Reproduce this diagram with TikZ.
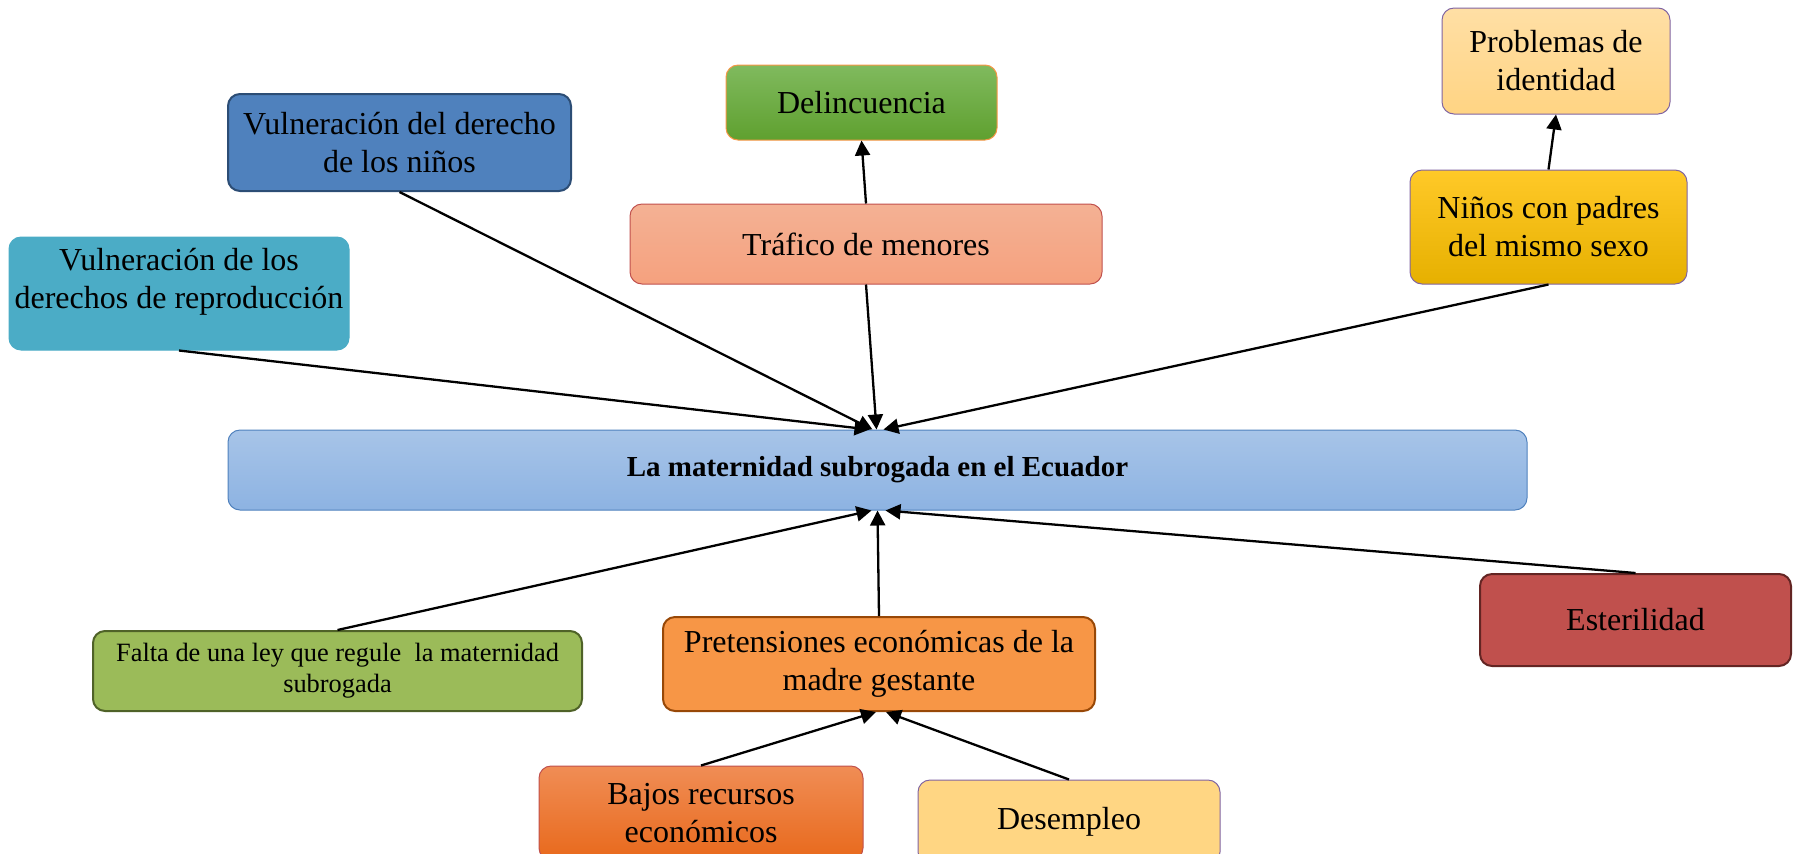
\documentclass[tikz,border=0pt]{standalone}
\usepackage{fontspec}
\setmainfont{Liberation Serif}
\usepackage{tikz}
\usetikzlibrary{arrows.meta}

\definecolor{ninfill}{HTML}{4F81BD}
\definecolor{nindraw}{HTML}{2C4D75}
\definecolor{repfill}{HTML}{4BACC6}
\definecolor{deltop}{HTML}{80BA5E}
\definecolor{delbot}{HTML}{5FA02F}
\definecolor{deldraw}{HTML}{F79646}
\definecolor{traftop}{HTML}{F4B194}
\definecolor{trafbot}{HTML}{F5A17E}
\definecolor{trafdraw}{HTML}{C0504D}
\definecolor{probtop}{HTML}{FFDFA5}
\definecolor{probbot}{HTML}{FFD483}
\definecolor{violet}{HTML}{8064A2}
\definecolor{padtop}{HTML}{FFC928}
\definecolor{padbot}{HTML}{E6B000}
\definecolor{maintop}{HTML}{A7C4E8}
\definecolor{mainbot}{HTML}{8DB3E2}
\definecolor{leyfill}{HTML}{9BBB59}
\definecolor{leydraw}{HTML}{4F6228}
\definecolor{pretfill}{HTML}{F79646}
\definecolor{pretdraw}{HTML}{984807}
\definecolor{estfill}{HTML}{C0504D}
\definecolor{estdraw}{HTML}{632523}
\definecolor{bajtop}{HTML}{F08D55}
\definecolor{bajbot}{HTML}{E8691C}
\definecolor{desfill}{HTML}{FFD683}

\begin{document}
\begin{tikzpicture}[x=0.5pt, y=-0.5pt]
    \tikzstyle{box} = [rectangle, rounded corners=6pt, align=center, inner sep=0pt, font=\fontsize{16}{19}\selectfont]
    \tikzstyle{thinbox} = [box, line width=0.5pt]
    \tikzstyle{thickbox} = [box, line width=1pt]
    \tikzstyle{arr} = [-{Triangle[length=7.5pt, width=7.5pt]}, line width=1.15pt]

    \clip (0,0) rectangle (1793,853);

    % Central problem
    \node[thinbox, draw=ninfill, top color=maintop, bottom color=mainbot, minimum width=649.5pt, minimum height=40pt,
          font=\bfseries\fontsize{14.5}{17}\selectfont] (main) at (877.5,470) {La maternidad subrogada en el Ecuador};

    % Effects
    \node[thickbox, draw=nindraw, fill=ninfill, minimum width=171.5pt, minimum height=48.5pt] (nin) at (399.5,142.5)
        {Vulneración del derecho\\de los niños};
    \node[thinbox, draw=repfill, fill=repfill, minimum width=170pt, minimum height=56.5pt] (rep) at (179,293.5)
        {Vulneración de los\\derechos de reproducción\\[-4pt]\mbox{}};
    \node[thinbox, draw=deldraw, top color=deltop, bottom color=delbot, minimum width=135.5pt, minimum height=37.5pt] (del) at (861.5,102.5)
        {Delincuencia};
    \node[thinbox, draw=trafdraw, top color=traftop, bottom color=trafbot, minimum width=236pt, minimum height=40pt] (traf) at (866,244)
        {Tráfico de menores};
    \node[thinbox, draw=violet, top color=probtop, bottom color=probbot, minimum width=114pt, minimum height=53pt] (prob) at (1556,61)
        {Problemas de\\identidad};
    \node[thinbox, draw=violet, top color=padtop, bottom color=padbot, minimum width=138.5pt, minimum height=57pt] (pad) at (1548.5,227)
        {Niños con padres\\del mismo sexo};

    % Causes
    \node[thickbox, draw=leydraw, fill=leyfill, minimum width=244.5pt, minimum height=40pt,
          font=\fontsize{13.2}{15.5}\selectfont] (ley) at (337.5,671)
        {Falta de una ley que regule \ la maternidad\\subrogada};
    \node[thickbox, draw=pretdraw, fill=pretfill, minimum width=216pt, minimum height=47pt] (pret) at (879,664)
        {Pretensiones económicas de la\\madre gestante};
    \node[thickbox, draw=estdraw, fill=estfill, minimum width=155.5pt, minimum height=46pt] (est) at (1635.5,620)
        {Esterilidad};
    \node[thinbox, draw=trafdraw, top color=bajtop, bottom color=bajbot, minimum width=162pt, minimum height=47pt] (baj) at (701,813)
        {Bajos recursos\\económicos};
    \node[thinbox, draw=violet, fill=desfill, minimum width=151pt, minimum height=42pt] (des) at (1069,822)
        {Desempleo};

    % Arrows into the central box
    \foreach \src/\dx in {rep/-4, nin/-2.5, traf/-0.5, pad/3} {
        \draw[arr] (\src.south) -- ([xshift=\dx pt]main.north);
    }
    \foreach \src/\dx in {ley/-3, pret/0, est/4} {
        \draw[arr] (\src.north) -- ([xshift=\dx pt]main.south);
    }

    % Secondary arrows
    \draw[arr] (traf.north) -- (del.south);
    \draw[arr] (pad.north) -- (prob.south);
    \draw[arr] (baj.north) -- ([xshift=-1.5pt]pret.south);
    \draw[arr] (des.north) -- ([xshift=3.5pt]pret.south);
\end{tikzpicture}
\end{document}
